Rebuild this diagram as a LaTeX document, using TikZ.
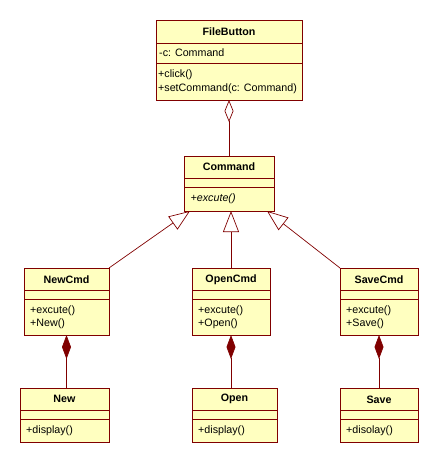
\documentclass[tikz,border=0pt]{standalone}
\usepackage{fontspec}
\setmainfont{Liberation Sans}
\usetikzlibrary{arrows.meta}
\definecolor{umlred}{RGB}{128,0,0}
\definecolor{umlfill}{RGB}{255,255,192}
\newcommand\umlbox[8]{%
  \node[box, minimum width={#4-#2}, minimum height={#5-#3}] (#1) at (#2,#3) {};
  \draw[sep] (#2,#6) -- (#4,#6);
  \draw[sep] (#2,#7) -- (#4,#7);
  \node[title] (#1-title) at ({(#2+#4)/2},{(#3+#6)/2}) {#8};
}
\begin{document}
\begin{tikzpicture}[x=1pt,y=-1pt,
  box/.style={draw=umlred, fill=umlfill, line width=0.9pt, anchor=north west, inner sep=0pt, outer sep=0pt},
  title/.style={font=\fontsize{10.7}{13.3}\selectfont\bfseries, anchor=center, inner sep=0pt},
  member/.style={font=\fontsize{10.7}{13.3}\selectfont, anchor=west, align=left, inner sep=0pt},
  sep/.style={draw=umlred, line width=0.9pt},
  link/.style={draw=umlred, line width=0.7pt},
  agg/.style={link, {Diamond[open, length=22pt, width=9pt]}-},
  comp/.style={link, {Diamond[length=24pt, width=9pt]}-},
  gen/.style={link, -{Triangle[open, length=21pt, width=16pt]}}]
\useasboundingbox (0,0) rectangle (440,464);

\umlbox{fb}{156}{20}{302}{100}{43.3}{63.3}{FileButton}
\node[member] (fb-attr) at (159,53) {-c: Command};
\node[member] (fb-ops) at (158,81.7) {+click()\\+setCommand(c: Command)};

\umlbox{cmd}{184}{156}{274}{211}{178.3}{187.7}{Command}
\node[member] (cmd-ops) at (190.5,198.5) {\itshape +excute()};

\umlbox{newcmd}{24}{268}{109}{335}{290.7}{299.3}{NewCmd}
\node[member] (newcmd-ops) at (30,317) {+excute()\\+New()};

\umlbox{opencmd}{192}{268}{270}{335}{290.7}{299.3}{OpenCmd}
\node[member] (opencmd-ops) at (198,317) {+excute()\\+Open()};

\umlbox{savecmd}{340}{268}{418}{335}{290.7}{299.3}{SaveCmd}
\node[member] (savecmd-ops) at (346,317) {+excute()\\+Save()};

\umlbox{new}{20}{388}{109}{442}{410.7}{419.3}{New}
\node[member] (new-ops) at (26,430.7) {+display()};

\umlbox{open}{192}{388}{277}{442}{410.7}{419.3}{Open}
\node[member] (open-ops) at (198,430.7) {+display()};

\umlbox{save}{340}{388}{418}{442}{410.7}{419.3}{Save}
\node[member] (save-ops) at (346,430.7) {+disolay()};

\coordinate (cmdL) at (190,211);
\coordinate (cmdR) at (267,211);

\draw[agg] (fb.south) -- (cmd.north);
\draw[gen] (newcmd.north east) -- (cmdL);
\draw[gen] (opencmd.north) -- (opencmd.north |- cmd.south);
\draw[gen] (savecmd.north west) -- (cmdR);
\draw[comp] (newcmd.south) -- (newcmd.south |- new.north);
\draw[comp] (opencmd.south) -- (opencmd.south |- open.north);
\draw[comp] (savecmd.south) -- (savecmd.south |- save.north);
\end{tikzpicture}
\end{document}
